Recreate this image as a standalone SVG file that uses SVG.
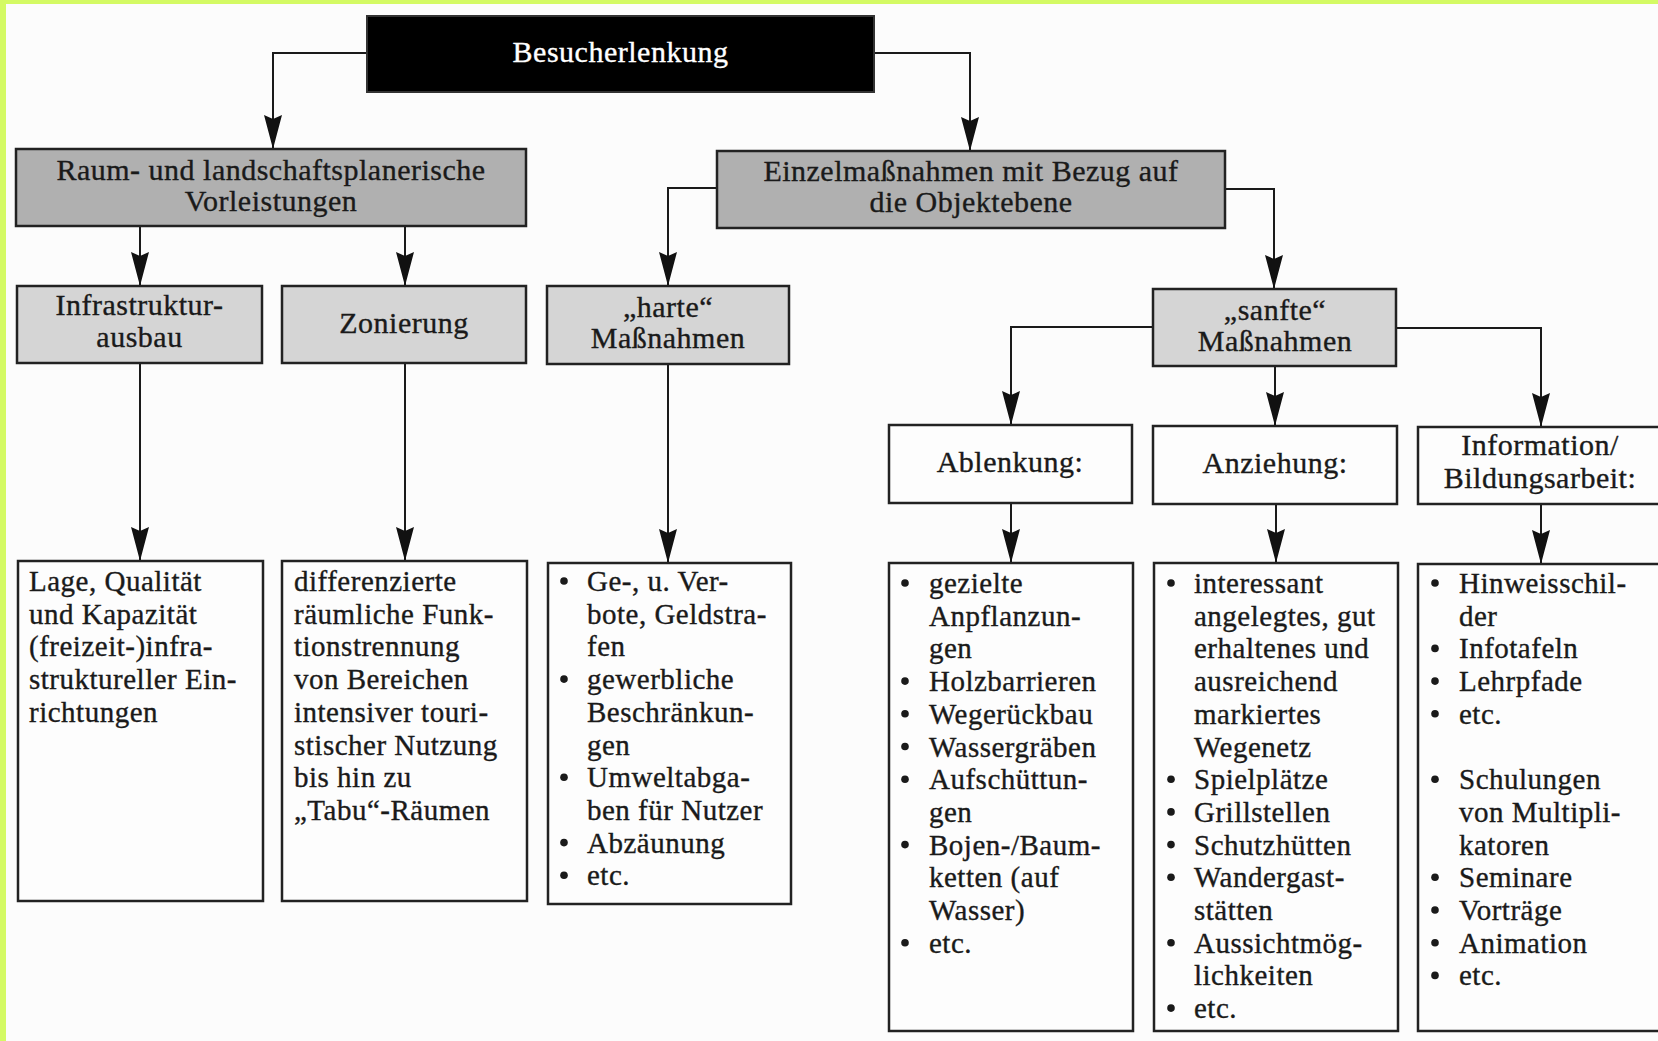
<svg xmlns="http://www.w3.org/2000/svg" width="1658" height="1041" viewBox="0 0 1658 1041">
<style>
.t{font-family:"Liberation Serif","Times New Roman",serif;fill:#1a1a1a;stroke:#1a1a1a;stroke-width:0.35px;letter-spacing:0.5px}
.h{font-size:30px;text-anchor:middle}
.b{font-size:29px}
.box{stroke:#222;stroke-width:2.5}
.dark{fill:#b0b0b0}
.light{fill:#d5d5d5}
.white{fill:#fdfdfd}
.con{fill:none;stroke:#1a1a1a;stroke-width:2;marker-end:url(#arr)}
.dot{fill:#1a1a1a}
</style>
<defs>
<marker id="arr" viewBox="0 0 34 18" refX="34" refY="9" markerWidth="34" markerHeight="18" markerUnits="userSpaceOnUse" orient="auto">
<path d="M0,0 L34,9 L0,18 L4,9 Z" fill="#111"/>
</marker>
</defs>
<rect x="0" y="0" width="1658" height="1041" fill="#d4fa64"/>
<rect x="6" y="4" width="1652" height="1037" fill="#fcfcfc"/>

<g id="connectors">
<path class="con" d="M367,53 H273 V149"/>
<path class="con" d="M874,53 H970 V151"/>
<path class="con" d="M140,226 V286"/>
<path class="con" d="M405,226 V286"/>
<path class="con" d="M717,188 H668 V286"/>
<path class="con" d="M1225,189 H1274 V289"/>
<path class="con" d="M1153,327 H1011 V425"/>
<path class="con" d="M1275,366 V426"/>
<path class="con" d="M1396,328 H1541 V427"/>
<path class="con" d="M140,363 V561"/>
<path class="con" d="M405,363 V561"/>
<path class="con" d="M668,364 V563"/>
<path class="con" d="M1011,503 V563"/>
<path class="con" d="M1276,504 V563"/>
<path class="con" d="M1541,504 V564"/>
</g>

<g id="besucherlenkung">
<rect x="367" y="16" width="507" height="76" fill="#000" stroke="#333" stroke-width="2"/>
<text class="t h" x="620.5" y="62" style="fill:#fff;stroke:#fff">Besucherlenkung</text>
</g>

<g id="raum">
<rect class="box dark" x="16" y="149" width="510" height="77"/>
<text class="t h" x="271" y="180">Raum- und landschaftsplanerische</text>
<text class="t h" x="271" y="211">Vorleistungen</text>
</g>

<g id="einzel">
<rect class="box dark" x="717" y="151" width="508" height="77"/>
<text class="t h" x="971" y="181">Einzelmaßnahmen mit Bezug auf</text>
<text class="t h" x="971" y="212">die Objektebene</text>
</g>

<g id="infrastruktur">
<rect class="box light" x="17" y="286" width="245" height="77"/>
<text class="t h" x="139.5" y="315">Infrastruktur-</text>
<text class="t h" x="139.5" y="347">ausbau</text>
</g>

<g id="zonierung">
<rect class="box light" x="282" y="286" width="244" height="77"/>
<text class="t h" x="404" y="333">Zonierung</text>
</g>

<g id="harte">
<rect class="box light" x="547" y="286" width="242" height="78"/>
<text class="t h" x="668" y="317">„harte“</text>
<text class="t h" x="668" y="348">Maßnahmen</text>
</g>

<g id="sanfte">
<rect class="box light" x="1153" y="289" width="243" height="77"/>
<text class="t h" x="1275" y="320">„sanfte“</text>
<text class="t h" x="1275" y="351">Maßnahmen</text>
</g>

<g id="ablenkung">
<rect class="box white" x="889" y="425" width="243" height="78"/>
<text class="t h" x="1010" y="472">Ablenkung:</text>
</g>

<g id="anziehung">
<rect class="box white" x="1153" y="426" width="244" height="78"/>
<text class="t h" x="1275" y="473">Anziehung:</text>
</g>

<g id="information">
<rect class="box white" x="1418" y="427" width="246" height="77"/>
<text class="t h" x="1540" y="455">Information/</text>
<text class="t h" x="1540" y="488">Bildungsarbeit:</text>
</g>

<g id="lage">
<rect class="box white" x="18" y="561" width="245" height="340"/>
<text class="t b" x="29" y="591">Lage, Qualität</text>
<text class="t b" x="29" y="623.7">und Kapazität</text>
<text class="t b" x="29" y="656.4">(freizeit-)infra-</text>
<text class="t b" x="29" y="689.1">struktureller Ein-</text>
<text class="t b" x="29" y="721.8">richtungen</text>
</g>

<g id="differenzierte">
<rect class="box white" x="282" y="561" width="245" height="340"/>
<text class="t b" x="294" y="591">differenzierte</text>
<text class="t b" x="294" y="623.7">räumliche Funk-</text>
<text class="t b" x="294" y="656.4">tionstrennung</text>
<text class="t b" x="294" y="689.1">von Bereichen</text>
<text class="t b" x="294" y="721.8">intensiver touri-</text>
<text class="t b" x="294" y="754.5">stischer Nutzung</text>
<text class="t b" x="294" y="787.2">bis hin zu</text>
<text class="t b" x="294" y="819.9">„Tabu“-Räumen</text>
</g>

<g id="harte-liste">
<rect class="box white" x="548" y="563" width="243" height="341"/>
<circle class="dot" cx="564" cy="581" r="3.8"/>
<circle class="dot" cx="564" cy="679.1" r="3.8"/>
<circle class="dot" cx="564" cy="777.2" r="3.8"/>
<circle class="dot" cx="564" cy="842.6" r="3.8"/>
<circle class="dot" cx="564" cy="875.3" r="3.8"/>
<text class="t b" x="587" y="591">Ge-, u. Ver-</text>
<text class="t b" x="587" y="623.7">bote, Geldstra-</text>
<text class="t b" x="587" y="656.4">fen</text>
<text class="t b" x="587" y="689.1">gewerbliche</text>
<text class="t b" x="587" y="721.8">Beschränkun-</text>
<text class="t b" x="587" y="754.5">gen</text>
<text class="t b" x="587" y="787.2">Umweltabga-</text>
<text class="t b" x="587" y="819.9">ben für Nutzer</text>
<text class="t b" x="587" y="852.6">Abzäunung</text>
<text class="t b" x="587" y="885.3">etc.</text>
</g>

<g id="ablenkung-liste">
<rect class="box white" x="889" y="563" width="244" height="468"/>
<circle class="dot" cx="905" cy="583" r="3.8"/>
<circle class="dot" cx="905" cy="681.1" r="3.8"/>
<circle class="dot" cx="905" cy="713.8" r="3.8"/>
<circle class="dot" cx="905" cy="746.5" r="3.8"/>
<circle class="dot" cx="905" cy="779.2" r="3.8"/>
<circle class="dot" cx="905" cy="844.6" r="3.8"/>
<circle class="dot" cx="905" cy="942.7" r="3.8"/>
<text class="t b" x="929" y="593">gezielte</text>
<text class="t b" x="929" y="625.7">Anpflanzun-</text>
<text class="t b" x="929" y="658.4">gen</text>
<text class="t b" x="929" y="691.1">Holzbarrieren</text>
<text class="t b" x="929" y="723.8">Wegerückbau</text>
<text class="t b" x="929" y="756.5">Wassergräben</text>
<text class="t b" x="929" y="789.2">Aufschüttun-</text>
<text class="t b" x="929" y="821.9">gen</text>
<text class="t b" x="929" y="854.6">Bojen-/Baum-</text>
<text class="t b" x="929" y="887.3">ketten (auf</text>
<text class="t b" x="929" y="920">Wasser)</text>
<text class="t b" x="929" y="952.7">etc.</text>
</g>

<g id="anziehung-liste">
<rect class="box white" x="1154" y="563" width="244" height="468"/>
<circle class="dot" cx="1171" cy="583" r="3.8"/>
<circle class="dot" cx="1171" cy="779.2" r="3.8"/>
<circle class="dot" cx="1171" cy="811.9" r="3.8"/>
<circle class="dot" cx="1171" cy="844.6" r="3.8"/>
<circle class="dot" cx="1171" cy="877.3" r="3.8"/>
<circle class="dot" cx="1171" cy="942.7" r="3.8"/>
<circle class="dot" cx="1171" cy="1008.1" r="3.8"/>
<text class="t b" x="1194" y="593">interessant</text>
<text class="t b" x="1194" y="625.7">angelegtes, gut</text>
<text class="t b" x="1194" y="658.4">erhaltenes und</text>
<text class="t b" x="1194" y="691.1">ausreichend</text>
<text class="t b" x="1194" y="723.8">markiertes</text>
<text class="t b" x="1194" y="756.5">Wegenetz</text>
<text class="t b" x="1194" y="789.2">Spielplätze</text>
<text class="t b" x="1194" y="821.9">Grillstellen</text>
<text class="t b" x="1194" y="854.6">Schutzhütten</text>
<text class="t b" x="1194" y="887.3">Wandergast-</text>
<text class="t b" x="1194" y="920">stätten</text>
<text class="t b" x="1194" y="952.7">Aussichtmög-</text>
<text class="t b" x="1194" y="985.4">lichkeiten</text>
<text class="t b" x="1194" y="1018.1">etc.</text>
</g>

<g id="information-liste">
<rect class="box white" x="1418" y="564" width="246" height="467"/>
<circle class="dot" cx="1435" cy="583" r="3.8"/>
<circle class="dot" cx="1435" cy="648.4" r="3.8"/>
<circle class="dot" cx="1435" cy="681.1" r="3.8"/>
<circle class="dot" cx="1435" cy="713.8" r="3.8"/>
<circle class="dot" cx="1435" cy="779.2" r="3.8"/>
<circle class="dot" cx="1435" cy="877.3" r="3.8"/>
<circle class="dot" cx="1435" cy="910" r="3.8"/>
<circle class="dot" cx="1435" cy="942.7" r="3.8"/>
<circle class="dot" cx="1435" cy="975.4" r="3.8"/>
<text class="t b" x="1459" y="593">Hinweisschil-</text>
<text class="t b" x="1459" y="625.7">der</text>
<text class="t b" x="1459" y="658.4">Infotafeln</text>
<text class="t b" x="1459" y="691.1">Lehrpfade</text>
<text class="t b" x="1459" y="723.8">etc.</text>
<text class="t b" x="1459" y="789.2">Schulungen</text>
<text class="t b" x="1459" y="821.9">von Multipli-</text>
<text class="t b" x="1459" y="854.6">katoren</text>
<text class="t b" x="1459" y="887.3">Seminare</text>
<text class="t b" x="1459" y="920">Vorträge</text>
<text class="t b" x="1459" y="952.7">Animation</text>
<text class="t b" x="1459" y="985.4">etc.</text>
</g>
</svg>
